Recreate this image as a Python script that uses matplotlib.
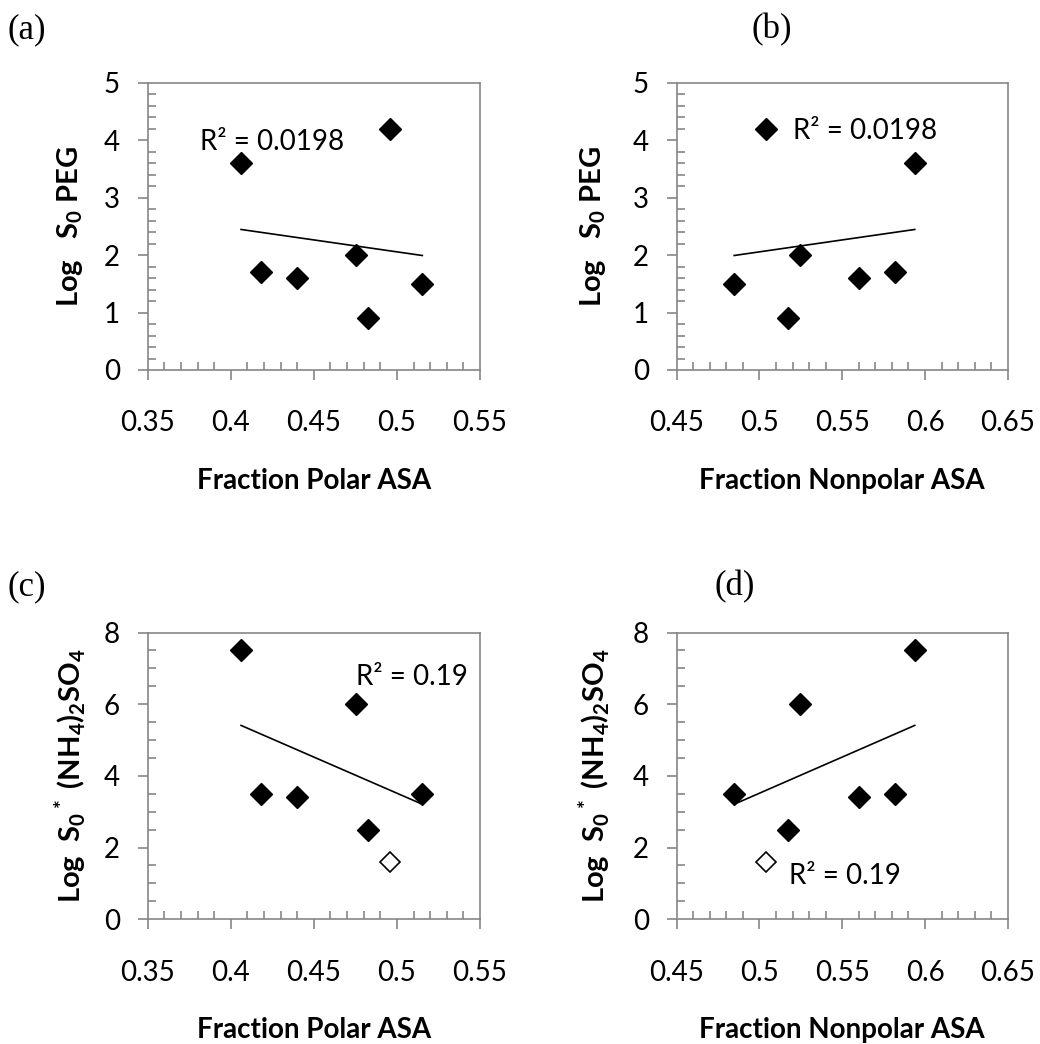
import numpy as np
import matplotlib.pyplot as plt
from matplotlib.ticker import MultipleLocator

plt.rcParams['font.family'] = ['Lato', 'DejaVu Sans']
plt.rcParams['mathtext.fontset'] = 'custom'
plt.rcParams['mathtext.rm'] = 'Lato:bold'
plt.rcParams['mathtext.bf'] = 'Lato:bold'
plt.rcParams['mathtext.default'] = 'bf'

# data
polar = [0.4062, 0.4182, 0.4397, 0.4754, 0.4826, 0.4958, 0.5153]
nonpolar = [1 - p for p in polar]
log_s0_peg = [3.6, 1.7, 1.6, 2.0, 0.9, 4.2, 1.5]
log_s0_amm = [7.5, 3.5, 3.4, 6.0, 2.5, 1.6, 3.5]
outlier = [False, False, False, False, False, True, False]  # open marker, left out of fit

peg_label = r"Log   S$_0$ PEG"
amm_label = r"Log  S$_0$$^*$ (NH$_4$)$_2$SO$_4$"

GRAY = '#868686'
FS = 20

fig = plt.figure(figsize=(10.4, 10.44), dpi=100)


def make_panel(rect, x, y, xlim, ylim, ymajor, yminor, ylabel, xlabel,
               r2text, r2pos, ylab_x, hollow=None):
    ax = fig.add_axes(rect)
    x = np.array(x)
    y = np.array(y)
    if hollow is None:
        hollow = np.zeros(len(x), dtype=bool)
    hollow = np.array(hollow)
    fit = ~hollow
    ax.plot(x[fit], y[fit], 'D', color='black', ms=11, zorder=3)
    if hollow.any():
        ax.plot(x[hollow], y[hollow], 'D', mfc='white', mec='black', mew=1.2,
                ms=10.5, zorder=3)
    # linear trendline through the filled points
    k, b = np.polyfit(x[fit], y[fit], 1)
    xs = np.array([x[fit].min(), x[fit].max()])
    ax.plot(xs, k * xs + b, color='black', lw=1.2, zorder=2)

    ax.set_xlim(xlim)
    ax.set_ylim(ylim)
    ax.xaxis.set_major_locator(MultipleLocator(0.05))
    ax.xaxis.set_minor_locator(MultipleLocator(0.01))
    ax.yaxis.set_major_locator(MultipleLocator(ymajor))
    ax.yaxis.set_minor_locator(MultipleLocator(yminor))
    ax.xaxis.set_major_formatter(lambda v, pos: f"{v:.2f}".rstrip('0').rstrip('.') if v else '0')
    for s in ax.spines.values():
        s.set_color(GRAY)
        s.set_linewidth(1.2)
    ax.tick_params(which='major', direction='out', length=7, width=1.2, color=GRAY,
                   labelsize=FS)
    ax.tick_params(which='minor', direction='in', length=6, width=1.2, color=GRAY)
    ax.tick_params(axis='x', which='major', pad=22)
    ax.tick_params(axis='y', which='major', pad=13)

    ax.set_xlabel(xlabel, fontsize=FS, fontweight='bold', va='center')
    ax.xaxis.set_label_coords(0.5, -0.385)
    ax.set_ylabel(ylabel, fontsize=FS + 1, fontweight='bold', va='center')
    ax.yaxis.set_label_coords(ylab_x, 0.5)
    ax.text(r2pos[0], r2pos[1], r2text, fontsize=FS, va='center', ha='left')
    return ax


make_panel([0.1420, 0.6456, 0.3195, 0.2752], polar, log_s0_peg, (0.35, 0.55), (0, 5),
           1, 0.2, peg_label, "Fraction Polar ASA", "R² = 0.0198", (0.3815, 3.97), -0.234)
make_panel([0.6507, 0.6456, 0.3183, 0.2752], nonpolar, log_s0_peg, (0.45, 0.65), (0, 5),
           1, 0.2, peg_label, "Fraction Nonpolar ASA", "R² = 0.0198", (0.5203, 4.16), -0.252)
make_panel([0.1420, 0.1195, 0.3195, 0.2746], polar, log_s0_amm, (0.35, 0.55), (0, 8),
           2, 0.5, amm_label, "Fraction Polar ASA", "R² = 0.19", (0.4754, 6.76), -0.231,
           hollow=outlier)
make_panel([0.6507, 0.1195, 0.3183, 0.2746], nonpolar, log_s0_amm, (0.45, 0.65), (0, 8),
           2, 0.5, amm_label, "Fraction Nonpolar ASA", "R² = 0.19", (0.5179, 1.21), -0.247,
           hollow=outlier)

for lab, px, py in [("(a)", 27, 30), ("(b)", 772, 30), ("(c)", 27, 587), ("(d)", 735, 587)]:
    fig.text(px / 1040, 1 - py / 1044, lab, fontsize=25, family='Liberation Serif',
             ha='center', va='center')

fig.savefig('out.png', dpi=100)
